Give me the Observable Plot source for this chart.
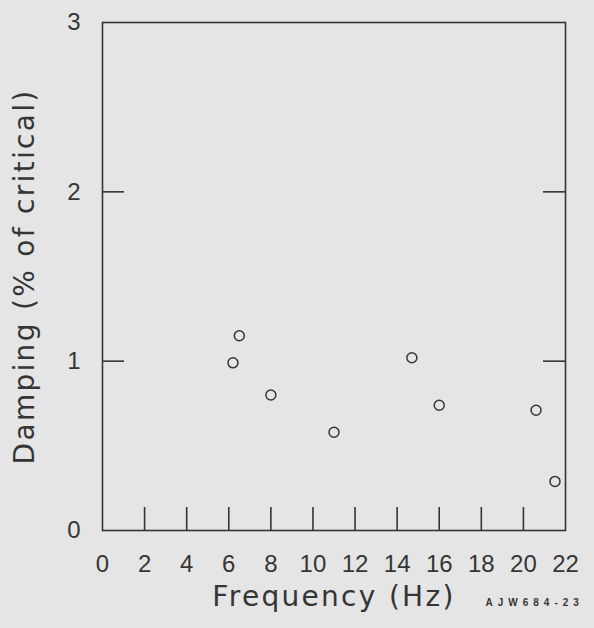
<!DOCTYPE html>
<html>
<head>
<meta charset="utf-8">
<script src="https://cdn.jsdelivr.net/npm/d3@7"></script>
<script src="https://cdn.jsdelivr.net/npm/@observablehq/plot@0.6"></script>
<style>
  html, body { margin: 0; padding: 0; background: #e5e5e5; }
  #chart { width: 594px; height: 628px; }
</style>
</head>
<body>
<div id="chart"></div>
<script>
// Data
const frequency = [6.2, 6.5, 8.0, 11.0, 14.7, 16.0, 20.6, 21.5];
const damping   = [0.99, 1.15, 0.80, 0.58, 1.02, 0.74, 0.71, 0.29];
const xTicks = [0, 2, 4, 6, 8, 10, 12, 14, 16, 18, 20, 22];
const yTicks = [0, 1, 2, 3];
const xTitle = "Frequency (Hz)";
const yTitle = "Damping (% of critical)";
const note = "AJW684-23";

const points = frequency.map((f, i) => ({f, d: damping[i]}));
const ink = "#353535";
const W = 594, H = 628, mL = 102, mR = 29, mT = 22, mB = 98;
const innerW = W - mL - mR, innerH = H - mT - mB;

const svg = Plot.plot({
  width: W, height: H,
  marginLeft: mL, marginRight: mR, marginTop: mT, marginBottom: mB,
  style: {background: "#e5e5e5", color: ink, fontFamily: "'Liberation Sans', Arial, sans-serif"},
  x: {domain: [0, 22], axis: null, label: null},
  y: {domain: [0, 3], axis: null, label: null},
  marks: [
    Plot.axisX({ticks: xTicks, tickSize: 0, tickPadding: 24, fontSize: 24, label: null, tickFormat: d => String(d)}),
    Plot.axisY({ticks: yTicks, tickSize: 0, tickPadding: 22, fontSize: 24, label: null, tickFormat: d => String(d)}),
    Plot.ruleX(xTicks.slice(1, -1), {x: d => d, insetTop: innerH - 23, stroke: ink, strokeWidth: 1.6}),
    Plot.ruleY(yTicks.slice(1, -1), {y: d => d, insetRight: innerW - 22, stroke: ink, strokeWidth: 1.6}),
    Plot.ruleY(yTicks.slice(1, -1), {y: d => d, insetLeft: innerW - 22, stroke: ink, strokeWidth: 1.6}),
    Plot.frame({stroke: ink, strokeWidth: 1.6}),
    Plot.dot(points, {x: "f", y: "d", r: 5, stroke: ink, strokeWidth: 1.5, fill: "none"}),
    Plot.text([xTitle], {text: d => d, frameAnchor: "bottom", dy: 75, fontSize: 28, fill: ink, fontFamily: "DejaVu Sans"}),
    Plot.text([yTitle], {text: d => d, frameAnchor: "left", textAnchor: "middle", dx: -77, rotate: -90, fontSize: 28, fill: ink, fontFamily: "DejaVu Sans"}),
    Plot.text([note], {text: d => d, frameAnchor: "bottom-right", dx: -80, dy: 75, textAnchor: "start", fontSize: 10, fontWeight: "bold", fill: ink})
  ]
});

d3.select(svg).selectAll("text").filter(function() {
  return this.textContent === xTitle || this.textContent === yTitle;
}).attr("letter-spacing", "2.3px");
d3.select(svg).selectAll("text").filter(function() {
  return this.textContent === note;
}).attr("letter-spacing", "5px");

document.getElementById("chart").appendChild(svg);
</script>
</body>
</html>
